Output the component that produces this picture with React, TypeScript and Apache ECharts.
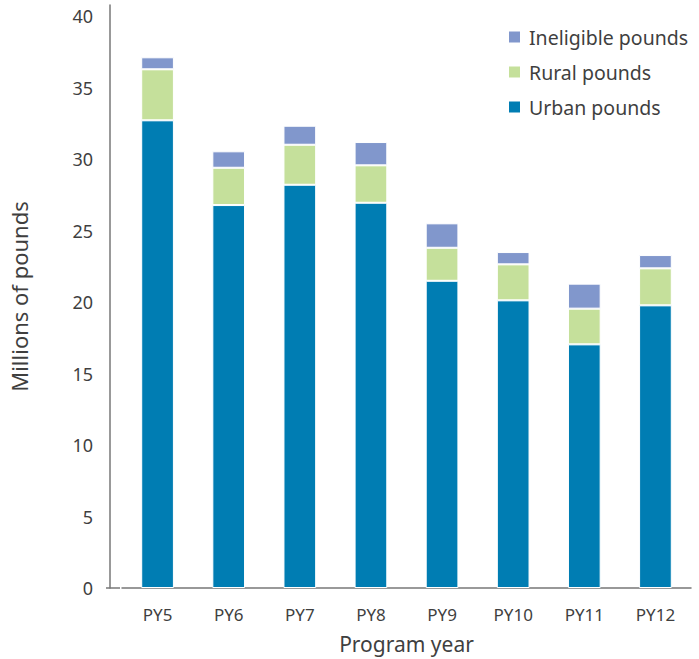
import React, { useEffect, useRef } from "react";
import * as echarts from "echarts";

const categories = ["PY5", "PY6", "PY7", "PY8", "PY9", "PY10", "PY11", "PY12"];
const urbanPounds = [32.73, 26.8, 28.22, 26.96, 21.5, 20.13, 17.05, 19.78];
const ruralPounds = [3.57, 2.61, 2.8, 2.62, 2.31, 2.52, 2.5, 2.59];
const ineligiblePounds = [0.84, 1.15, 1.33, 1.63, 1.71, 0.86, 1.75, 0.93];

const FONT = "Noto Sans";
const TEXT = "#3f3f3f";

export default function App() {
  const ref = useRef<HTMLDivElement>(null);
  useEffect(() => {
    if (!ref.current) return;
    const chart = echarts.init(ref.current, undefined, { renderer: "svg" });
    const barStyle = (color: string) => ({
      color,
      borderColor: "#ffffff",
      borderWidth: 1,
    });
    chart.setOption({
      animation: false,
      textStyle: { fontFamily: FONT },
      grid: { left: 119, right: 8, top: 5, bottom: 71 },
      legend: {
        orient: "vertical",
        left: 502,
        top: 22,
        itemWidth: 13,
        itemHeight: 13,
        itemGap: 15,
        icon: "rect",
        textStyle: { fontFamily: FONT, fontSize: 19.5, color: TEXT, padding: [0, 0, 0, 3] },
        data: ["Ineligible pounds", "Rural pounds", "Urban pounds"],
      },
      xAxis: {
        type: "category",
        data: categories,
        name: "Program year",
        nameLocation: "middle",
        nameGap: 45,
        nameTextStyle: { fontFamily: FONT, fontSize: 21, color: TEXT },
        axisLine: { lineStyle: { color: "#777777", width: 1.5 } },
        axisTick: { show: false },
        axisLabel: { fontFamily: FONT, fontSize: 17, color: TEXT, margin: 18 },
      },
      yAxis: {
        type: "value",
        min: 0,
        max: 40.8,
        interval: 5,
        offset: 12,
        name: "Millions of pounds",
        nameLocation: "middle",
        nameGap: 80,
        nameTextStyle: { fontFamily: FONT, fontSize: 22, color: TEXT },
        axisLine: { show: true, lineStyle: { color: "#777777", width: 1.5 } },
        axisTick: { show: false },
        splitLine: { show: false },
        axisLabel: {
          fontFamily: FONT,
          fontSize: 18,
          color: TEXT,
          margin: 17,
          showMaxLabel: false,
        },
      },
      graphic: [
        {
          type: "line",
          shape: { x1: 106, y1: 588, x2: 120, y2: 588 },
          style: { stroke: "#777777", lineWidth: 1.5 },
        },
      ],
      series: [
        {
          name: "Urban pounds",
          type: "bar",
          stack: "total",
          barWidth: "46%",
          data: urbanPounds,
          itemStyle: barStyle("#007DB3"),
        },
        {
          name: "Rural pounds",
          type: "bar",
          stack: "total",
          data: ruralPounds,
          itemStyle: barStyle("#C5E09B"),
        },
        {
          name: "Ineligible pounds",
          type: "bar",
          stack: "total",
          data: ineligiblePounds,
          itemStyle: barStyle("#8197CC"),
        },
      ],
    });
    return () => chart.dispose();
  }, []);
  return <div ref={ref} style={{ width: 699, height: 659, position: "absolute", left: 0, top: 0 }} />;
}
